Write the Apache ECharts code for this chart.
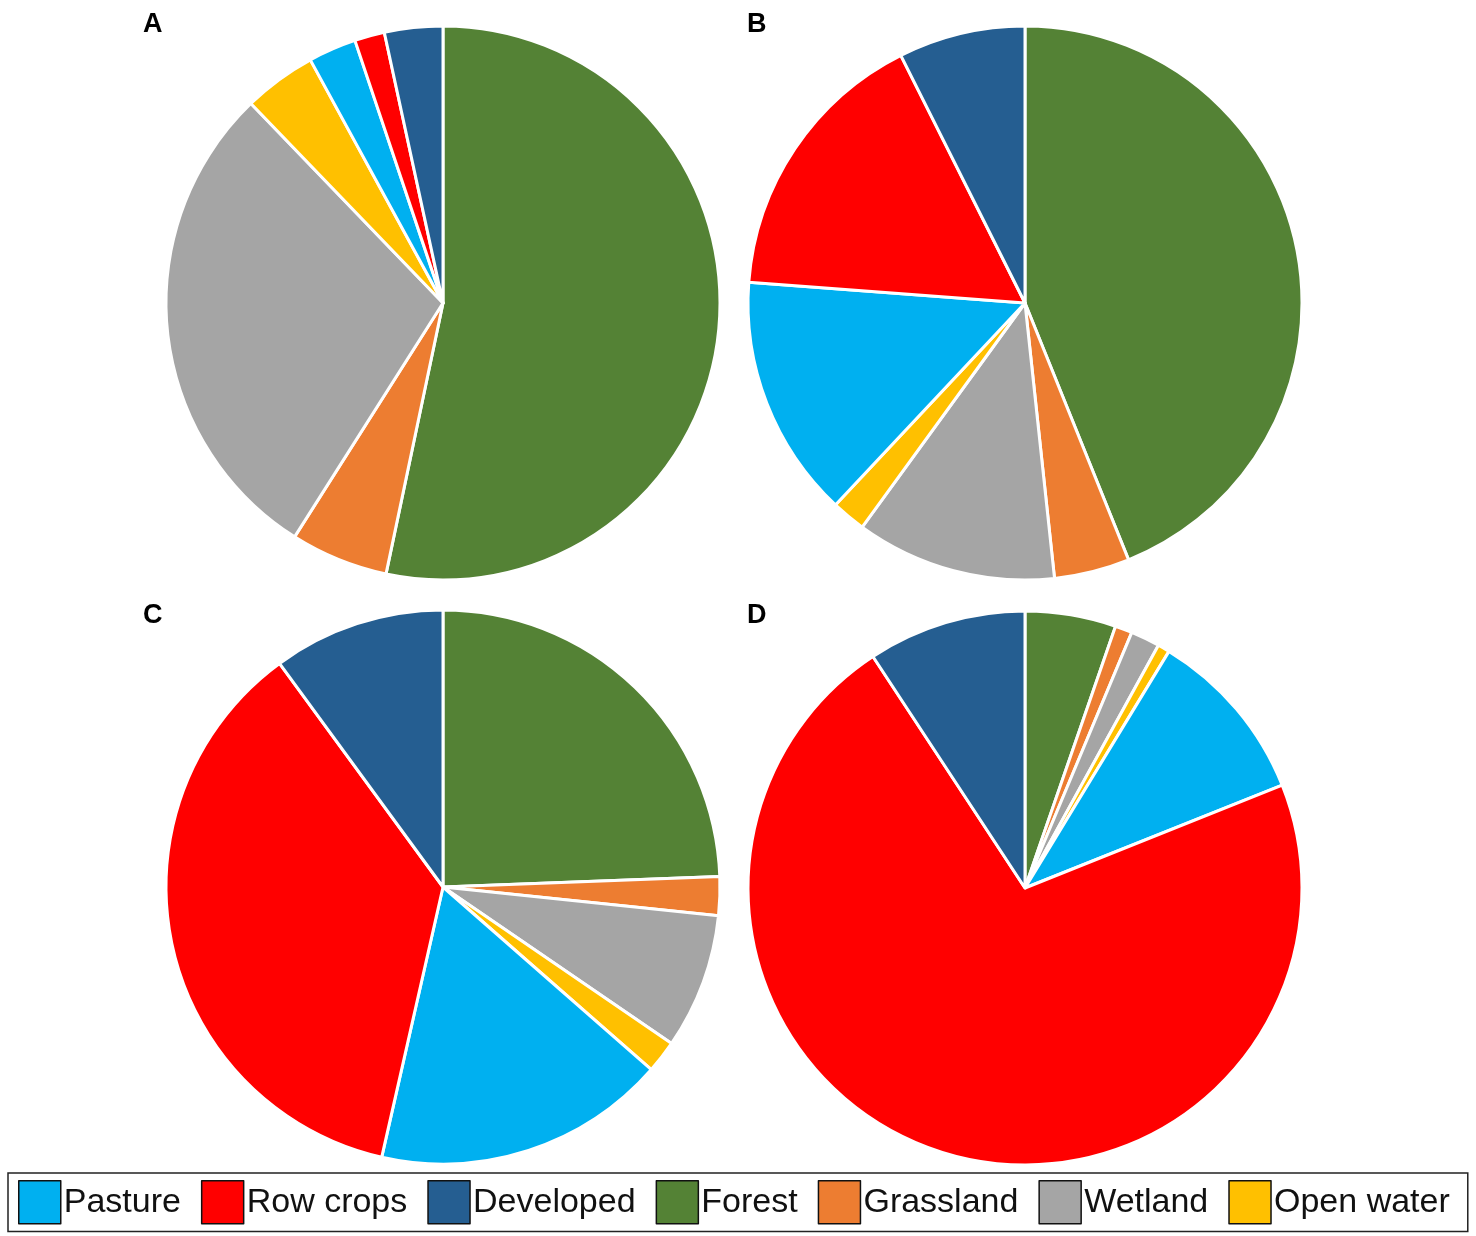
<!DOCTYPE html>
<html>
<head>
<meta charset="utf-8">
<title>Land cover pies</title>
<script src="https://cdn.jsdelivr.net/npm/echarts@6/dist/echarts.min.js"></script>
<style>
    html, body { margin: 0; padding: 0; background: #fff; }
    #chart { width: 1476px; height: 1236px; }
</style>
</head>
<body>
<div id="chart"></div>
<script>
    // slice order, clockwise from 12 o'clock
    const categories = ['Forest', 'Grassland', 'Wetland', 'Open water', 'Pasture', 'Row crops', 'Developed'];
    const legendOrder = ['Pasture', 'Row crops', 'Developed', 'Forest', 'Grassland', 'Wetland', 'Open water'];
    const panelLabels = ['A', 'B', 'C', 'D'];

    // percent share of each category, per panel
    const valuesA = [53.3, 5.7, 28.8, 4.25, 2.8, 1.75, 3.4];
    const valuesB = [43.9, 4.4, 11.7, 2.0, 14.2, 16.4, 7.4];
    const valuesC = [24.4, 2.25, 7.9, 1.9, 17.1, 36.4, 10.05];
    const valuesD = [5.3, 1.0, 1.7, 0.7, 10.25, 71.8, 9.25];

    const colors = {
        'Forest': '#548235',
        'Grassland': '#ED7D31',
        'Wetland': '#A5A5A5',
        'Open water': '#FFC000',
        'Pasture': '#00B0F0',
        'Row crops': '#FF0000',
        'Developed': '#255E91'
    };

    const chart = echarts.init(document.getElementById('chart'));

    const centers = [[443, 303], [1025, 303], [443, 887], [1025, 888]];
    const labelPos = [[143, 6], [747, 6], [143, 597], [747, 597]];
    const allValues = [valuesA, valuesB, valuesC, valuesD];

    function makePie(values, i) {
        return {
            name: panelLabels[i],
            type: 'pie',
            center: centers[i],
            radius: 277,
            startAngle: 90,
            clockwise: true,
            label: { show: false },
            labelLine: { show: false },
            emphasis: { disabled: true },
            itemStyle: { borderColor: '#fff', borderWidth: 3 },
            data: categories.map((c, k) => ({
                name: c,
                value: values[k],
                itemStyle: { color: colors[c] }
            }))
        };
    }

    const option = {
        animation: false,
        backgroundColor: '#fff',
        title: panelLabels.map((t, i) => ({
            text: t,
            left: labelPos[i][0] - 5,
            top: labelPos[i][1],
            textStyle: {
                fontFamily: 'Liberation Sans',
                fontWeight: 'bold',
                fontSize: 27,
                color: '#000'
            }
        })),
        legend: {
            data: legendOrder,
            left: 8,
            top: 1173,
            orient: 'horizontal',
            itemWidth: 42,
            itemHeight: 43,
            itemGap: 20,
            padding: [7, 18, 7, 10],
            borderColor: '#222',
            borderWidth: 1.5,
            icon: 'rect',
            selectedMode: false,
            itemStyle: { borderColor: '#111', borderWidth: 1.5 },
            textStyle: {
                fontFamily: 'Liberation Sans',
                fontSize: 34,
                color: '#111',
                padding: [0, 0, 0, -2]
            }
        },
        series: allValues.map(makePie)
    };

    chart.setOption(option);
</script>
</body>
</html>
